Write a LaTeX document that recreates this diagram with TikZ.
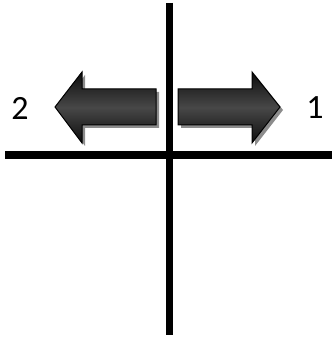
\documentclass[tikz,border=0pt]{standalone}
\usepackage{fontspec}
\setmainfont{Carlito}
\usetikzlibrary{shadows}
\begin{document}
\begin{tikzpicture}[x=1pt, y=1pt,
  axis/.style={line width=7.5pt},
  bigarrow/.style={draw=black, line width=1pt, line join=miter,
    top color=black!95, bottom color=black!95, middle color=black!72,
    drop shadow={shadow xshift=3pt, shadow yshift=-3pt, fill=black!45, opacity=1}},
  num/.style={font=\fontsize{34}{40}\selectfont, inner sep=0pt}
]
  \useasboundingbox (0,0) rectangle (332,339);
  \coordinate (top) at (169.5,336);
  \coordinate (bottom) at (169.5,4);
  \coordinate (left) at (5,184);
  \coordinate (right) at (332,184);
  \draw[axis] (top) -- (bottom);
  \draw[axis] (left) -- (right);
  % arrow 1
  \draw[bigarrow] (178,250) -- (252,250) -- (252,267) -- (280,232)
    -- (252,196) -- (252,214) -- (178,214) -- cycle;
  % arrow 2
  \draw[bigarrow] (156,250) -- (82,250) -- (82,267) -- (55,232)
    -- (82,196) -- (82,214) -- (156,214) -- cycle;
  \node[num] (one) at (315,231) {1};
  \node[num] (two) at (20,231) {2};
\end{tikzpicture}
\end{document}
